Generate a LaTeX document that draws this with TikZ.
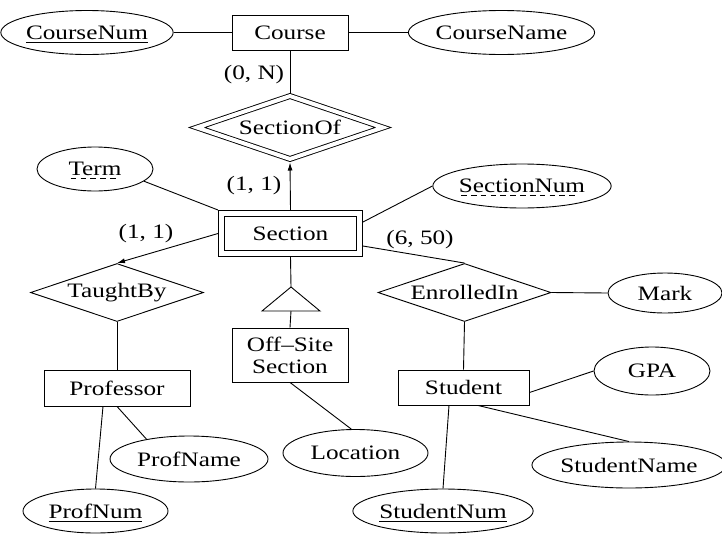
\documentclass[tikz,border=0pt]{standalone}
\usepackage{fontspec}
\setmainfont{Liberation Serif}
\usepackage{graphicx}
\usetikzlibrary{shapes.geometric,arrows.meta}
\newcommand\wt[1]{\scalebox{1.23}[1]{#1}}
\newcommand\solidul[1]{\setbox0\hbox{#1}\copy0\llap{\smash{\lower3.5pt\hbox{\vrule width\wd0 height 0.8pt depth 0pt}}}}
\newcommand\dashul[1]{\setbox0\hbox{#1}\copy0\llap{\smash{\lower3.5pt\hbox to\wd0{\leaders\hbox to 8pt{\hss\vrule height 0.8pt depth 0pt width 4.6pt\hss}\hfill}}}}
\begin{document}
\begin{tikzpicture}[x=1pt,y=-1pt, line width=0.9pt,
  font=\fontsize{20.5}{22}\selectfont,
  entity/.style={draw, rectangle, inner sep=0pt, minimum height=35pt},
  attr/.style={draw, ellipse, inner sep=0pt, minimum height=44pt},
  rel/.style={draw, diamond, inner sep=0pt, aspect=2.95, minimum width=173pt, minimum height=58pt},
  card/.style={inner sep=0pt},
  arr/.style={-{Latex[length=8pt,width=5pt]}}]
\fill[white] (0,0) rectangle (722,533);
\useasboundingbox (0,0) rectangle (722,533);
% entities
\node[entity, minimum width=116pt] (Course) at (290,32.5) {\wt{Course}};
\node[draw, double, double distance=5pt, inner sep=0pt, minimum width=138pt, minimum height=40pt, outer sep=3.5pt] (Section) at (290.5,233.5) {\wt{Section}};
\node[entity, minimum width=146pt, minimum height=36pt] (Professor) at (117,388) {\wt{Professor}};
\node[entity, minimum width=131pt] (Student) at (463.5,387.5) {\wt{Student}};
\node[entity, minimum width=116pt, minimum height=54pt, align=center] (OffSite) at (290,355) {\wt{Off--Site}\\\wt{Section}};
% relationships
\node[rel, double, double distance=4pt, minimum width=188pt, minimum height=65pt, outer sep=2.5pt] (SectionOf) at (290,127.5) {\wt{SectionOf}};
\node[rel] (TaughtBy) at (117,292.5) {\wt{TaughtBy}};
\node[rel] (EnrolledIn) at (464.5,292.5) {\wt{EnrolledIn}};
% attributes
\node[attr, minimum width=160pt] (CourseNum) at (87,32.5) {\wt{\solidul{CourseNum}}};
\node[attr, minimum width=177pt] (CourseName) at (501.5,32.5) {\wt{CourseName}};
\node[attr, minimum width=116pt] (Term) at (95,169) {\wt{\dashul{Term}}};
\node[attr, minimum width=174pt] (SectionNum) at (522,186) {\wt{\dashul{SectionNum}}};
\node[attr, minimum width=114pt, minimum height=40pt] (Mark) at (665,293) {\wt{Mark}};
\node[attr, minimum width=158pt, minimum height=46pt] (ProfName) at (189,459) {\wt{ProfName}};
\node[attr, minimum width=145pt] (ProfNum) at (95.5,511) {\wt{\solidul{ProfNum}}};
\node[attr, minimum width=145pt, minimum height=47pt] (Location) at (355.5,453) {\wt{Location}};
\node[attr, minimum width=116pt, minimum height=48pt] (GPA) at (652,371) {\wt{GPA}};
\node[attr, minimum width=186pt, minimum height=46pt] (StudentName) at (629,465) {\wt{StudentName}};
\node[attr, minimum width=172pt] (StudentNum) at (443,511) {\wt{\solidul{StudentNum}}};
% ISA triangle
\coordinate (isaApex) at (291,287);
\coordinate (isaBase) at (291,311);
\coordinate (isaL) at (262,311);
\coordinate (isaR) at (320,311);
\draw (isaApex) -- (isaL) -- (isaR) -- cycle;
% cardinalities
\node[card] (c1) at (254,75) {\wt{(0, N)}};
\node[card] (c2) at (254,186) {\wt{(1, 1)}};
\node[card] (c3) at (146,234) {\wt{(1, 1)}};
\node[card] (c4) at (420,240) {\wt{(6, 50)}};
% connectors
\draw (CourseNum.east) -- (Course.west);
\draw (Course.east) -- (CourseName.west);
\draw (Course.south) -- (SectionOf.north);
\draw[arr] (Section.north) -- (SectionOf.south);
\draw (Term.-14) -- (Section.north west);
\draw ([yshift=11.5pt]Section.east) -- (SectionNum.west);
\draw[arr] (Section.west) -- (TaughtBy.north);
\draw ([yshift=-12.5pt]Section.east) -- (EnrolledIn.north);
\draw (Section.south) -- (isaApex);
\draw (isaBase) -- (OffSite.north);
\draw (OffSite.south) -- (Location.100);
\draw (TaughtBy.south) -- (Professor.north);
\draw ([xshift=-14pt]Professor.south) -- (ProfNum.north);
\draw (Professor.south) -- (ProfName.155);
\draw (EnrolledIn.east) -- (Mark.west);
\draw (EnrolledIn.south) -- (Student.north);
\draw ([yshift=-5pt]Student.east) -- (GPA.west);
\draw ([xshift=14.5pt]Student.south) -- (StudentName.north);
\draw ([xshift=-14.5pt]Student.south) -- (StudentNum.north);
\end{tikzpicture}
\end{document}
